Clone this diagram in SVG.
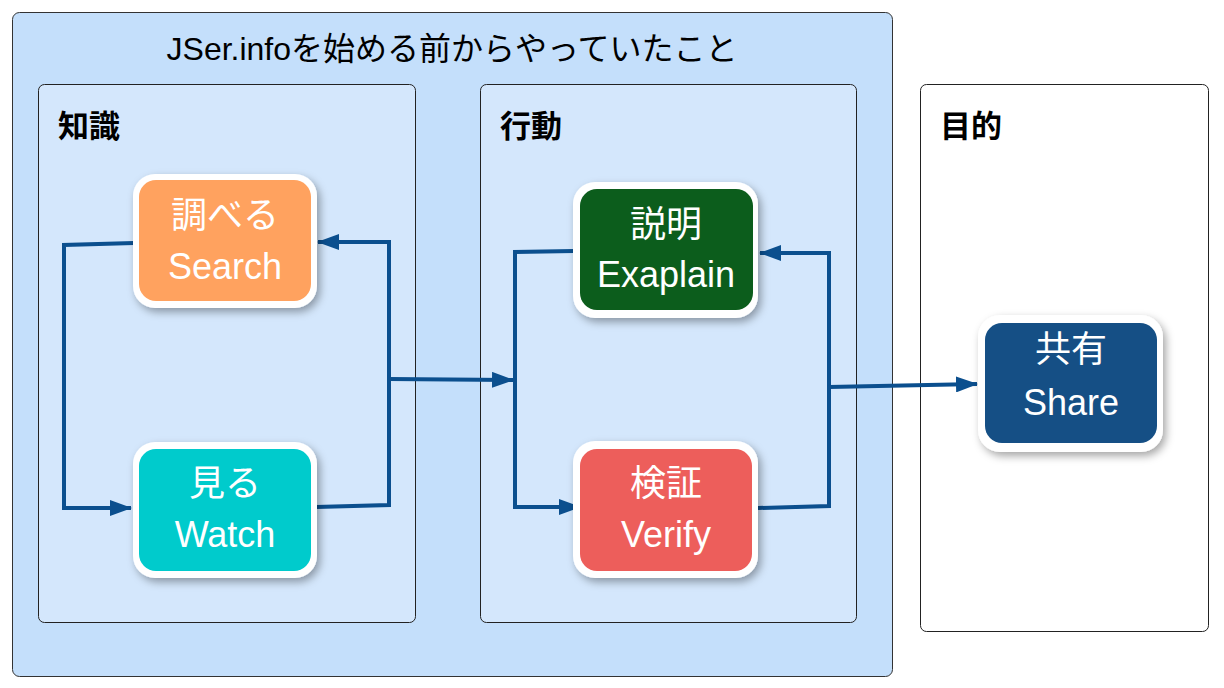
<svg xmlns="http://www.w3.org/2000/svg" width="1224" height="688" viewBox="0 0 1224 688">
<defs>
<style>
.t{font-family:"Liberation Sans","Noto Sans CJK JP",sans-serif}
.lbl{font-family:"Noto Sans CJK JP",sans-serif;font-weight:bold;font-size:31px;fill:#000}
.nt{font-family:"Liberation Sans","Noto Sans CJK JP",sans-serif;font-size:36px;fill:#fff;text-anchor:middle}
.frame{fill:#fff;filter:url(#sh)}
.con{fill:none;stroke:#0b4f8e;stroke-width:4;stroke-linejoin:miter}
</style>
<filter id="sh" x="-20%" y="-20%" width="140%" height="140%">
<feDropShadow dx="3" dy="4" stdDeviation="4" flood-color="#000" flood-opacity="0.35"/>
</filter>
<marker id="ar" viewBox="0 0 22 16" refX="21" refY="8" markerWidth="22" markerHeight="16" markerUnits="userSpaceOnUse" orient="auto">
<path d="M0,0 L22,8 L0,16 Z" fill="#0b4f8e"/>
</marker>
</defs>

<g id="group-main">
<rect x="12.5" y="12.5" width="880" height="664" rx="7" fill="#c4dffb" stroke="#333" stroke-width="1"/>
<text class="t" x="452" y="60" font-size="32" text-anchor="middle" fill="#000">JSer.infoを始める前からやっていたこと</text>
</g>
<g id="group-knowledge">
<rect x="38.5" y="84.5" width="377" height="538" rx="6" fill="#d4e7fc" stroke="#222" stroke-width="1"/>
<text class="lbl" x="58" y="137">知識</text>
</g>
<g id="group-action">
<rect x="480.5" y="84.5" width="376" height="538" rx="6" fill="#d4e7fc" stroke="#222" stroke-width="1"/>
<text class="lbl" x="500" y="137">行動</text>
</g>
<g id="group-purpose">
<rect x="920.5" y="84.5" width="288" height="547" rx="6" fill="#fff" stroke="#222" stroke-width="1"/>
<text class="lbl" x="940" y="137">目的</text>
</g>

<g id="connectors">
<polyline class="con" points="134,243 64,245 64,508 131,508" marker-end="url(#ar)"/>
<polyline class="con" points="316,507 389,505 389,242 318,242" marker-end="url(#ar)"/>
<polyline class="con" points="389,379 513,380" marker-end="url(#ar)"/>
<polyline class="con" points="574,251 515,252 515,507 580,507" marker-end="url(#ar)"/>
<polyline class="con" points="758,508 829,506 829,253 760,253" marker-end="url(#ar)"/>
<polyline class="con" points="829,387 977,384" marker-end="url(#ar)"/>
</g>

<g id="node-search">
<rect class="frame" x="133" y="174" width="184" height="134" rx="22"/>
<rect x="139" y="180" width="172" height="121" rx="17" fill="#ffa25f"/>
<text class="nt" x="225" y="228">調べる</text>
<text class="nt" x="225" y="279">Search</text>
</g>
<g id="node-watch">
<rect class="frame" x="133" y="442" width="184" height="136" rx="22"/>
<rect x="139" y="449" width="172" height="122" rx="17" fill="#00cbcc"/>
<text class="nt" x="225" y="496">見る</text>
<text class="nt" x="225" y="547">Watch</text>
</g>
<g id="node-explain">
<rect class="frame" x="573" y="182" width="185" height="136" rx="22"/>
<rect x="580" y="189" width="173" height="121" rx="17" fill="#0c5d1c"/>
<text class="nt" x="666" y="237">説明</text>
<text class="nt" x="666" y="287">Exaplain</text>
</g>
<g id="node-verify">
<rect class="frame" x="573" y="441" width="185" height="137" rx="22"/>
<rect x="580" y="449" width="172" height="122" rx="17" fill="#ed5e5b"/>
<text class="nt" x="666" y="496">検証</text>
<text class="nt" x="666" y="547">Verify</text>
</g>
<g id="node-share">
<rect class="frame" x="978" y="315" width="185" height="137" rx="22"/>
<rect x="985" y="323" width="172" height="120" rx="17" fill="#154f85"/>
<text class="nt" x="1071" y="362">共有</text>
<text class="nt" x="1071" y="415">Share</text>
</g>
</svg>
